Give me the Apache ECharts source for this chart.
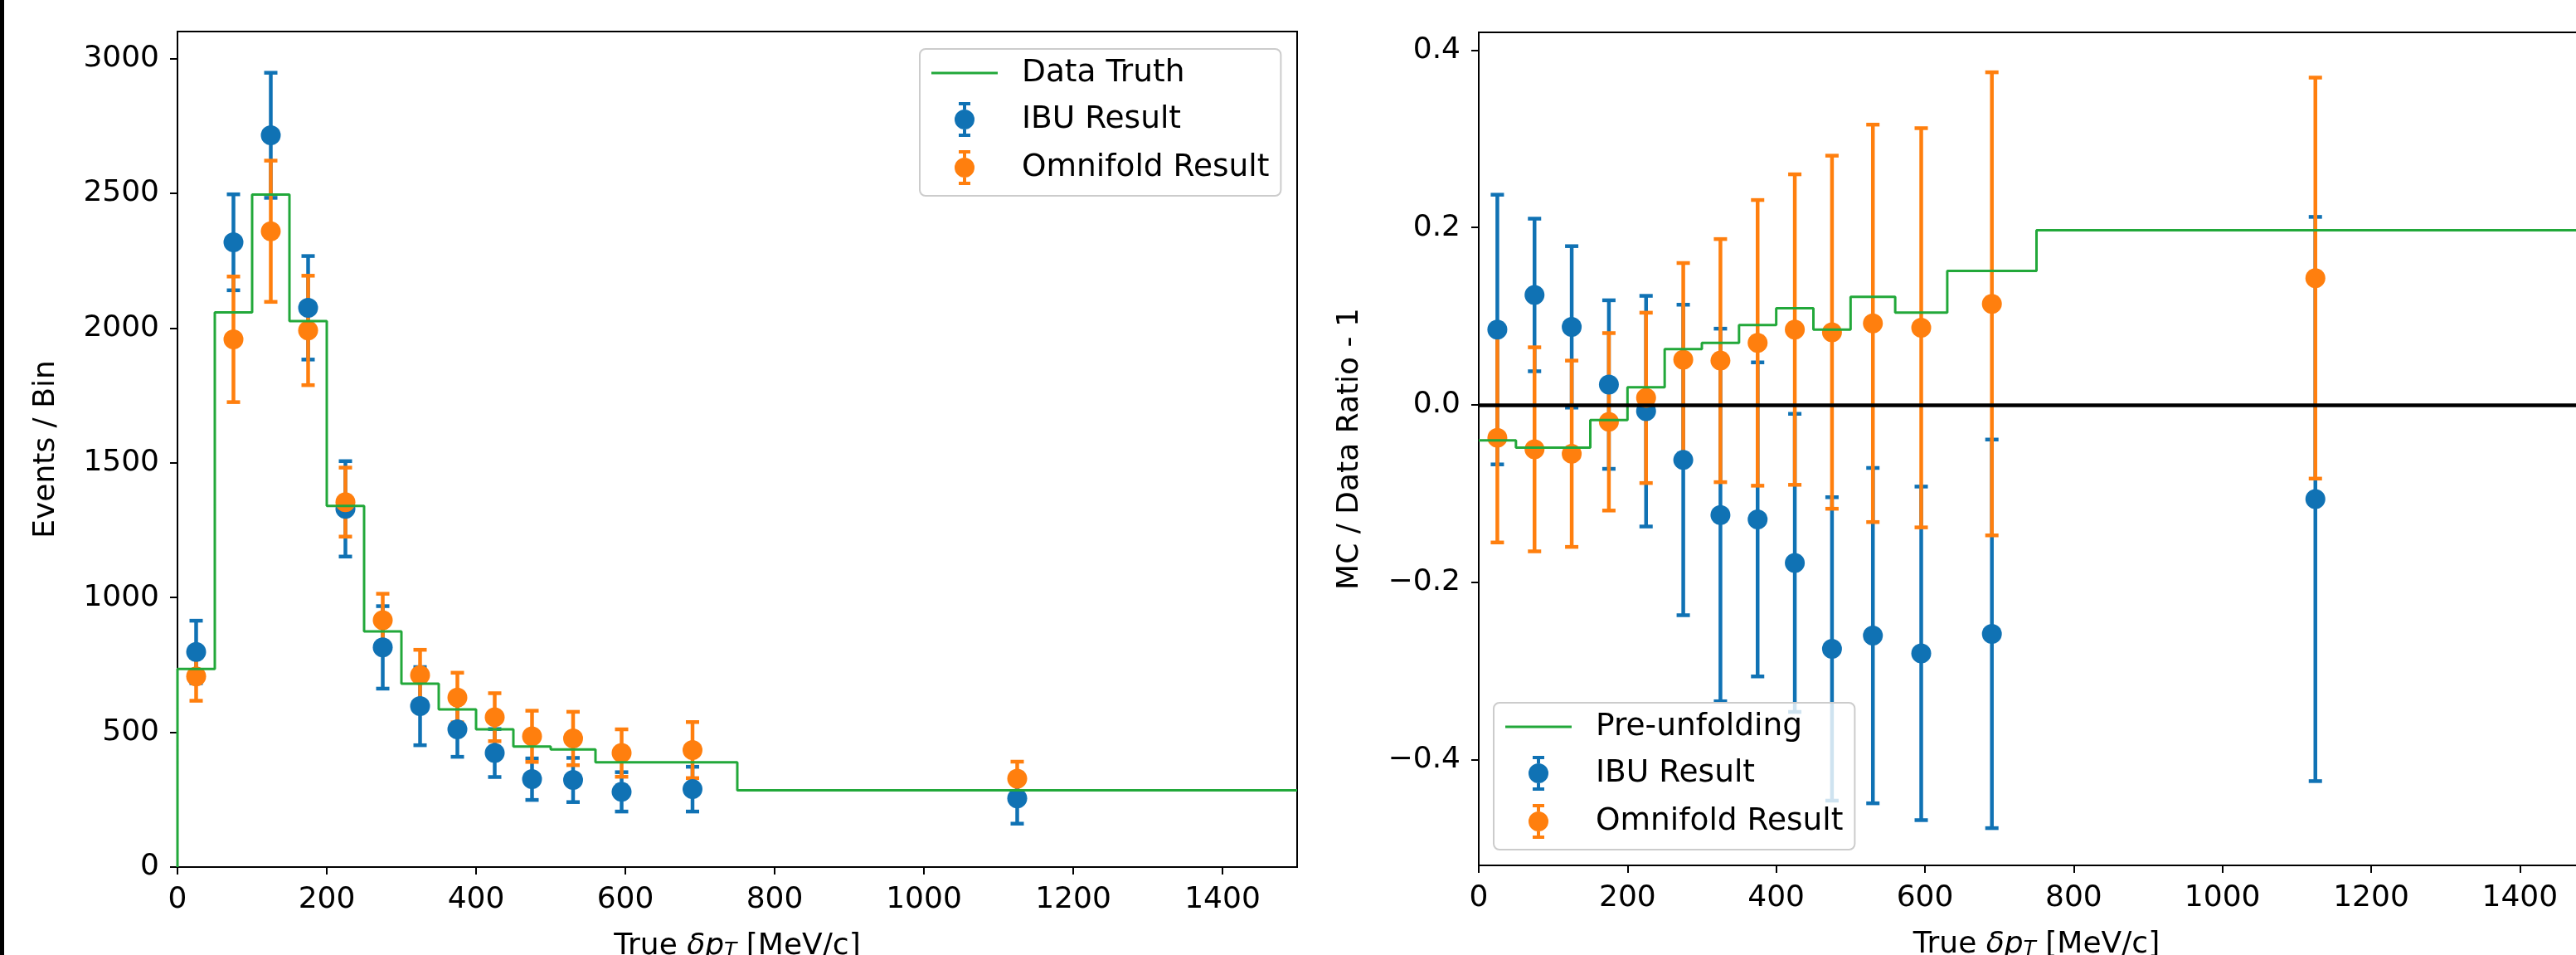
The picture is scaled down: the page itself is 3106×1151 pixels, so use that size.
<!DOCTYPE html>
<html lang="en">
<head>
<meta charset="UTF-8">
<title>Unfolding results - true delta pT</title>
<style>
  html, body { margin: 0; padding: 0; background: #fff; }
  #chart { width: 3106px; height: 1151px; }
</style>
</head>
<body>
<div id="chart"></div>
<script src="https://cdn.jsdelivr.net/npm/echarts@6/dist/echarts.min.js"></script>
<script>
// bins of true delta pT [MeV/c]
const binEdges = [0, 50, 100, 150, 200, 250, 300, 350, 400, 450, 500, 560, 630, 750, 1500];
const binCenters = [25, 75, 125, 175, 225, 275, 325, 375, 425, 475, 530, 595, 690, 1125];

// left panel: events / bin
const truthCounts  = [735, 2058, 2495, 2026, 1340, 874, 680, 585, 511, 447, 436, 389, 389, 285];
const ibuCounts    = [798, 2318, 2715, 2075, 1329, 815, 597, 511, 423, 326, 323, 279, 289, 255];
const ibuCountErr  = [116, 178, 232, 192, 177, 153, 145, 102, 89, 77, 82, 73, 83, 94];
const omniCounts   = [707, 1958, 2359, 1991, 1354, 916, 712, 629, 556, 485, 477, 423, 434, 328];
const omniCountErr = [90, 233, 262, 203, 128, 98, 94, 92, 89, 95, 99, 88, 104, 63];

// right panel: MC / data ratio - 1
const preUnfoldRatio = [-0.040, -0.048, -0.048, -0.017, 0.020, 0.063, 0.070, 0.090, 0.109, 0.085, 0.122, 0.104, 0.151, 0.197];
const ibuRatio       = [0.085, 0.124, 0.088, 0.023, -0.007, -0.062, -0.124, -0.129, -0.178, -0.275, -0.260, -0.280, -0.258, -0.106];
const ibuRatioErr    = [0.152, 0.086, 0.091, 0.095, 0.130, 0.175, 0.210, 0.177, 0.168, 0.171, 0.189, 0.188, 0.219, 0.318];
const omniRatio      = [-0.037, -0.050, -0.055, -0.019, 0.008, 0.051, 0.050, 0.070, 0.085, 0.082, 0.092, 0.087, 0.114, 0.143];
const omniRatioErr   = [0.118, 0.115, 0.105, 0.100, 0.096, 0.109, 0.137, 0.161, 0.175, 0.199, 0.224, 0.225, 0.261, 0.226];

// tick labels
const ptTicks = [0, 200, 400, 600, 800, 1000, 1200, 1400];
const countTicks = [0, 500, 1000, 1500, 2000, 2500, 3000];
const ratioTicks = [-0.4, -0.2, 0, 0.2, 0.4];

const BLUE = '#1072b4';
const ORANGE = '#ff7f0e';
const GREEN = '#22a83a';
const FONT = 'DejaVu Sans';

// stairs: value i holds from edge i to edge i+1
function stairs(edges, vals, baseline) {
  const pts = [];
  if (baseline !== undefined) pts.push([edges[0], baseline]);
  vals.forEach((v, i) => pts.push([edges[i], v]));
  pts.push([edges[edges.length - 1], vals[vals.length - 1]]);
  return pts;
}

function points(xs, ys) {
  return xs.map((x, i) => [x, ys[i]]);
}

function withErr(xs, ys, es) {
  return xs.map((x, i) => [x, ys[i], es[i]]);
}

function errorBarItem(color) {
  return function (params, api) {
    const x = api.value(0), y = api.value(1), e = api.value(2);
    const hi = api.coord([x, y + e]);
    const lo = api.coord([x, y - e]);
    const style = { stroke: color, lineWidth: 4.5 };
    return {
      type: 'group',
      children: [
        { type: 'line', shape: { x1: hi[0], y1: hi[1], x2: lo[0], y2: lo[1] }, style: style },
        { type: 'line', shape: { x1: hi[0] - 8, y1: hi[1], x2: hi[0] + 8, y2: hi[1] }, style: style },
        { type: 'line', shape: { x1: lo[0] - 8, y1: lo[1], x2: lo[0] + 8, y2: lo[1] }, style: style }
      ]
    };
  };
}

// legend icons: marker with error bar and caps, and a plain line
const errIcon = 'path://M5,0H19V4H5Z M10,4H14V9H10Z M0,21A12,12 0 1,1 24,21A12,12 0 1,1 0,21Z M10,33H14V38H10Z M5,38H19V42H5Z';
const lineIcon = 'path://M0,0H80V3H0Z';

const plain = v => String(v);

function xAxisFor(gridIndex) {
  return {
    type: 'value', gridIndex: gridIndex, min: 0, max: 1500,
    name: 'True {it|δp}{sub|T} [MeV/c]', nameLocation: 'middle', nameGap: 78,
    nameTextStyle: {
      fontSize: 36, color: '#000', fontFamily: FONT,
      rich: {
        it: { fontSize: 36, fontStyle: 'italic', fontFamily: FONT, color: '#000' },
        sub: { fontSize: 25, fontStyle: 'italic', fontFamily: FONT, color: '#000', verticalAlign: 'bottom' }
      }
    },
    axisLine: { show: false, onZero: false },
    axisTick: { show: true, length: 9, lineStyle: { color: '#000', width: 2 }, customValues: ptTicks },
    axisLabel: { fontSize: 36, color: '#000', fontFamily: FONT, margin: 22, customValues: ptTicks, formatter: plain },
    splitLine: { show: false }
  };
}

function legendFor(left, top, lineName) {
  return {
    orient: 'vertical', left: left, top: top,
    itemWidth: 80, itemHeight: 42, itemGap: 16,
    padding: [10, 14, 13, 14],
    backgroundColor: 'rgba(255,255,255,0.8)',
    borderColor: '#cccccc', borderWidth: 2, borderRadius: 7,
    symbolKeepAspect: true,
    selectedMode: false,
    textStyle: { fontSize: 37.5, color: '#000', fontFamily: FONT, padding: [0, 0, 0, 24] },
    data: [
      { name: lineName, icon: lineIcon, itemStyle: { color: GREEN } },
      { name: 'IBU Result', icon: errIcon, itemStyle: { color: BLUE } },
      { name: 'Omnifold Result', icon: errIcon, itemStyle: { color: ORANGE } }
    ]
  };
}

const chart = echarts.init(document.getElementById('chart'), null, { renderer: 'canvas' });

chart.setOption({
  animation: false,
  backgroundColor: '#fff',
  textStyle: { fontFamily: FONT },
  grid: [
    { left: 214, top: 38, width: 1350, height: 1007, show: true, borderColor: '#000', borderWidth: 2, backgroundColor: '#fff', outerBoundsMode: 'none' },
    { left: 1783, top: 39, width: 1345, height: 1004, show: true, borderColor: '#000', borderWidth: 2, backgroundColor: '#fff', outerBoundsMode: 'none' }
  ],
  xAxis: [xAxisFor(0), xAxisFor(1)],
  yAxis: [
    {
      type: 'value', gridIndex: 0, min: 0, max: 3100,
      name: 'Events / Bin', nameLocation: 'middle', nameGap: 140,
      nameTextStyle: { fontSize: 36, color: '#000', fontFamily: FONT },
      axisLine: { show: false },
      axisTick: { show: true, length: 9, lineStyle: { color: '#000', width: 2 }, customValues: countTicks },
      axisLabel: { fontSize: 36, color: '#000', fontFamily: FONT, margin: 22, customValues: countTicks, formatter: plain },
      splitLine: { show: false }
    },
    {
      type: 'value', gridIndex: 1, min: -0.519, max: 0.42,
      name: 'MC / Data Ratio - 1', nameLocation: 'middle', nameGap: 137,
      nameTextStyle: { fontSize: 36, color: '#000', fontFamily: FONT },
      axisLine: { show: false },
      axisTick: { show: true, length: 9, lineStyle: { color: '#000', width: 2 }, customValues: ratioTicks },
      axisLabel: {
        fontSize: 36, color: '#000', fontFamily: FONT, margin: 22, customValues: ratioTicks,
        formatter: v => (v < -1e-9 ? '\u2212' : '') + Math.abs(v).toFixed(1)
      },
      splitLine: { show: false }
    }
  ],
  legend: [
    legendFor(1109, 59, 'Data Truth'),
    legendFor(1801, 847, 'Pre-unfolding')
  ],
  graphic: [
    { type: 'rect', left: 0, top: 0, shape: { width: 5, height: 1151 }, style: { fill: '#000' }, z: 100 }
  ],
  series: [
    // left panel
    {
      name: 'Data Truth', type: 'line', xAxisIndex: 0, yAxisIndex: 0,
      data: stairs(binEdges, truthCounts, 0), step: 'end',
      symbol: 'none', lineStyle: { color: GREEN, width: 3 }, itemStyle: { color: GREEN }
    },
    {
      name: 'IBU Result', type: 'custom', xAxisIndex: 0, yAxisIndex: 0,
      data: withErr(binCenters, ibuCounts, ibuCountErr), encode: { x: 0, y: 1 },
      renderItem: errorBarItem(BLUE), itemStyle: { color: BLUE }
    },
    {
      name: 'IBU Result', type: 'scatter', xAxisIndex: 0, yAxisIndex: 0,
      data: points(binCenters, ibuCounts), symbolSize: 24, itemStyle: { color: BLUE, opacity: 1 }
    },
    {
      name: 'Omnifold Result', type: 'custom', xAxisIndex: 0, yAxisIndex: 0,
      data: withErr(binCenters, omniCounts, omniCountErr), encode: { x: 0, y: 1 },
      renderItem: errorBarItem(ORANGE), itemStyle: { color: ORANGE }
    },
    {
      name: 'Omnifold Result', type: 'scatter', xAxisIndex: 0, yAxisIndex: 0,
      data: points(binCenters, omniCounts), symbolSize: 24, itemStyle: { color: ORANGE, opacity: 1 }
    },
    // right panel
    {
      name: 'Pre-unfolding', type: 'line', xAxisIndex: 1, yAxisIndex: 1,
      data: stairs(binEdges, preUnfoldRatio), step: 'end',
      symbol: 'none', lineStyle: { color: GREEN, width: 3 }, itemStyle: { color: GREEN },
      markLine: {
        silent: true, symbol: 'none', z: 10,
        label: { show: false },
        lineStyle: { color: '#000', width: 4.5, type: 'solid' },
        data: [{ yAxis: 0 }]
      }
    },
    {
      name: 'IBU Result', type: 'custom', xAxisIndex: 1, yAxisIndex: 1,
      data: withErr(binCenters, ibuRatio, ibuRatioErr), encode: { x: 0, y: 1 },
      renderItem: errorBarItem(BLUE), itemStyle: { color: BLUE }
    },
    {
      name: 'IBU Result', type: 'scatter', xAxisIndex: 1, yAxisIndex: 1,
      data: points(binCenters, ibuRatio), symbolSize: 24, itemStyle: { color: BLUE, opacity: 1 }
    },
    {
      name: 'Omnifold Result', type: 'custom', xAxisIndex: 1, yAxisIndex: 1,
      data: withErr(binCenters, omniRatio, omniRatioErr), encode: { x: 0, y: 1 },
      renderItem: errorBarItem(ORANGE), itemStyle: { color: ORANGE }
    },
    {
      name: 'Omnifold Result', type: 'scatter', xAxisIndex: 1, yAxisIndex: 1,
      data: points(binCenters, omniRatio), symbolSize: 24, itemStyle: { color: ORANGE, opacity: 1 }
    }
  ]
});
</script>
</body>
</html>
